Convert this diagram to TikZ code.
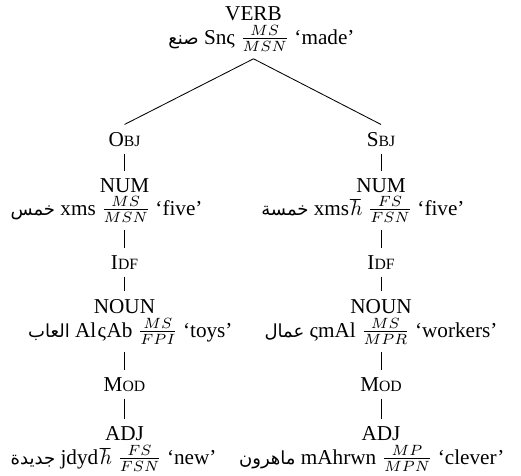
\documentclass[tikz,border=0pt]{standalone}
\usepackage{fontspec,amsmath}
\setmainfont{Liberation Serif}
\newfontfamily\arabicfont[Script=Arabic,Scale=0.85]{DejaVu Sans}
\TeXXeTstate=1
\newcommand{\arword}[1]{{\arabicfont\beginR #1\endR}}
\newcommand{\fakesc}[2]{#1{\fontsize{7.4pt}{9pt}\selectfont #2}}
\usetikzlibrary{calc}

\begin{document}
\begin{tikzpicture}[x=0.4717pt, y=-0.4717pt, font=\fontsize{10pt}{12pt}\selectfont]
\def \sp {0.4pt}
  \tikzstyle{cat} = [anchor=base, inner sep=3.33pt, text=black]
  \tikzstyle{word} = [anchor=base east, inner sep=3.33pt, text=black]
  \tikzstyle{lines} = [black, line width=\sp, -]

\useasboundingbox (0,0) rectangle (521,475);

%%%%%%%%%%%%%%%%%%%%%%%%%%%%%%%%%%%%%%%%%%%%%%%%%%%%%%%%%%%%%%%%%%%%%%%%%%%%%%%

\coordinate (verb_pose) at (253.5, 20);
\coordinate (verbw_pose) at (362, 44);
\coordinate (obj_pose) at (124.5, 146);
\coordinate (sbj_pose) at (381, 146);
\coordinate (numl_pose) at (124.5, 192);
\coordinate (numr_pose) at (381, 192);
\coordinate (xmsl_pose) at (210, 215);
\coordinate (xmsr_pose) at (472, 215);
\coordinate (idfl_pose) at (124.5, 269);
\coordinate (idfr_pose) at (381, 269);
\coordinate (nounl_pose) at (124.5, 313);
\coordinate (nounr_pose) at (381, 313);
\coordinate (toys_pose) at (240, 337);
\coordinate (workers_pose) at (505, 337);
\coordinate (modl_pose) at (124.5, 391);
\coordinate (modr_pose) at (381, 391);
\coordinate (adjl_pose) at (124.5, 440);
\coordinate (adjr_pose) at (381, 440);
\coordinate (new_pose) at (224, 464);
\coordinate (clever_pose) at (512, 464);

%%%%%%%%%%%%%%%%%%%%%%%%%%%%%%%%%%%%%%%%%%%%%%%%%%%%%%%%%%%%%%%%%%%%%%%%%%%%%%%

\node[cat] (verb) at (verb_pose) {VERB};
\node[word] (verbw) at (verbw_pose) {\arword{صنع} Snς $\frac{MS}{MSN}$ ‘made’};

\node[cat] (obj) at (obj_pose) {\fakesc{O}{BJ}};
\node[cat] (sbj) at (sbj_pose) {\fakesc{S}{BJ}};

\node[cat] (numl) at (numl_pose) {NUM};
\node[word] (xmsl) at (xmsl_pose) {\arword{خمس} xms $\frac{MS}{MSN}$ ‘five’};
\node[cat] (numr) at (numr_pose) {NUM};
\node[word] (xmsr) at (xmsr_pose) {\arword{خمسة} xms\kern0.5pt$\hbar$ $\frac{FS}{FSN}$ ‘five’};

\node[cat] (idfl) at (idfl_pose) {\fakesc{I}{DF}};
\node[cat] (idfr) at (idfr_pose) {\fakesc{I}{DF}};

\node[cat] (nounl) at (nounl_pose) {NOUN};
\node[word] (toys) at (toys_pose) {\arword{العاب} Al\kern0.6ptς\kern0.3ptAb $\frac{MS}{FPI}$ ‘toys’};
\node[cat] (nounr) at (nounr_pose) {NOUN};
\node[word] (workers) at (workers_pose) {\arword{عمال} ςmAl $\frac{MS}{MPR}$ ‘workers’};

\node[cat] (modl) at (modl_pose) {\fakesc{M}{OD}};
\node[cat] (modr) at (modr_pose) {\fakesc{M}{OD}};

\node[cat] (adjl) at (adjl_pose) {ADJ};
\node[word] (new) at (new_pose) {\arword{جديدة} jdyd\kern0.8pt$\hbar$ $\frac{FS}{FSN}$ ‘new’};
\node[cat] (adjr) at (adjr_pose) {ADJ};
\node[word] (clever) at (clever_pose) {\arword{ماهرون} mAhrwn $\frac{MP}{MPN}$ ‘clever’};

%%%%%%%%%%%%%%%%%%%%%%%%%%%%%%%%%%%%%%%%%%%%%%%%%%%%%%%%%%%%%%%%%%%%%%%%%%%%%%%

\draw[lines] (verb.south |- verbw.south) -- (obj.north);
\draw[lines] (verb.south |- verbw.south) -- (sbj.north);

\draw[lines] (obj.south) -- (numl.north);
\draw[lines] (numl.south |- xmsl.south) -- (idfl.north);
\draw[lines] (idfl.south) -- (nounl.north);
\draw[lines] (nounl.south |- toys.south) -- (modl.north);
\draw[lines] (modl.south) -- (adjl.north);

\draw[lines] (sbj.south) -- (numr.north);
\draw[lines] (numr.south |- xmsr.south) -- (idfr.north);
\draw[lines] (idfr.south) -- (nounr.north);
\draw[lines] (nounr.south |- workers.south) -- (modr.north);
\draw[lines] (modr.south) -- (adjr.north);

\end{tikzpicture}
\end{document}
